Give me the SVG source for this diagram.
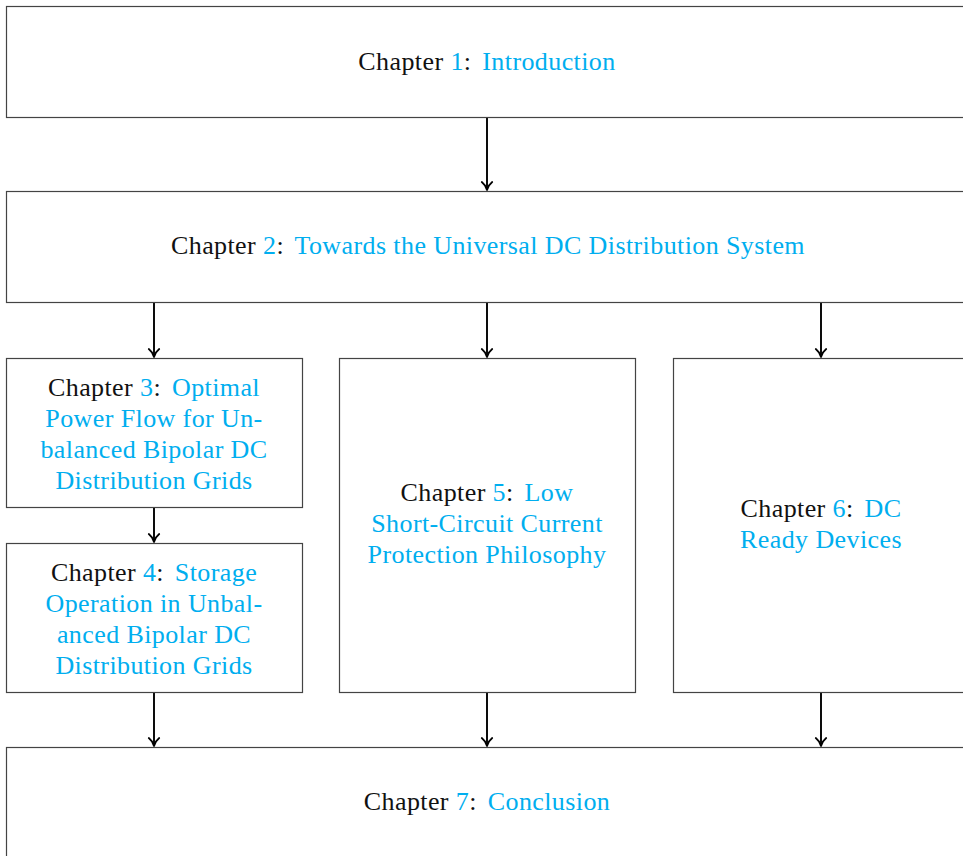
<svg xmlns="http://www.w3.org/2000/svg" width="963" height="856" viewBox="0 0 963 856">
  <style>
    .box { fill: #ffffff; stroke: #444444; stroke-width: 1.2; }
    .lbl { font-family: "Liberation Serif", "Times New Roman", serif; font-size: 26px; fill: #111111; text-anchor: middle; letter-spacing: 0.4px; }
    .ref { fill: #00aeef; }
    .edge { fill: none; stroke: #000000; stroke-width: 1.9; marker-end: url(#tip); }
  </style>
  <defs>
    <marker id="tip" markerUnits="userSpaceOnUse" markerWidth="16" markerHeight="16" viewBox="-8 -8 16 16" refX="0" refY="0" orient="auto" overflow="visible">
      <path d="M-8,-5.2 C-5.5,-2 -2.2,-0.6 0,0 C-2.2,0.6 -5.5,2 -8,5.2" fill="none" stroke="#000000" stroke-width="1.8" stroke-linecap="round" stroke-linejoin="round"/>
    </marker>
  </defs>
  <rect width="963" height="856" fill="#ffffff"/>

  <!-- connectors -->
  <g id="connectors">
    <path class="edge" d="M487,117.5 V190"/>
    <path class="edge" d="M154,302.5 V357"/>
    <path class="edge" d="M487,302.5 V357"/>
    <path class="edge" d="M821,302.5 V357"/>
    <path class="edge" d="M154,507.5 V542"/>
    <path class="edge" d="M154,692.5 V746"/>
    <path class="edge" d="M487,692.5 V746"/>
    <path class="edge" d="M821,692.5 V746"/>
  </g>

  <g id="ch1">
    <rect class="box" x="6.5" y="6.5" width="963" height="111"/>
    <text class="lbl" x="487" y="70">Chapter <tspan class="ref">1</tspan>: <tspan class="ref" dx="4">Introduction</tspan></text>
  </g>

  <g id="ch2">
    <rect class="box" x="6.5" y="191.5" width="963" height="111"/>
    <text class="lbl" x="488" y="254">Chapter <tspan class="ref">2</tspan>: <tspan class="ref" dx="4">Towards the Universal DC Distribution System</tspan></text>
  </g>

  <g id="ch3">
    <rect class="box" x="6.5" y="358.5" width="296" height="149"/>
    <text class="lbl" y="396"><tspan x="154">Chapter <tspan class="ref">3</tspan>: <tspan class="ref" dx="4">Optimal</tspan></tspan><tspan class="ref" x="154" y="427">Power Flow for Un-</tspan><tspan class="ref" x="154" y="458">balanced Bipolar DC</tspan><tspan class="ref" x="154" y="489">Distribution Grids</tspan></text>
  </g>

  <g id="ch4">
    <rect class="box" x="6.5" y="543.5" width="296" height="149"/>
    <text class="lbl" y="581"><tspan x="154">Chapter <tspan class="ref">4</tspan>: <tspan class="ref" dx="4">Storage</tspan></tspan><tspan class="ref" x="154" y="612">Operation in Unbal-</tspan><tspan class="ref" x="154" y="643">anced Bipolar DC</tspan><tspan class="ref" x="154" y="674">Distribution Grids</tspan></text>
  </g>

  <g id="ch5">
    <rect class="box" x="339.5" y="358.5" width="296" height="334"/>
    <text class="lbl" y="501"><tspan x="487">Chapter <tspan class="ref">5</tspan>: <tspan class="ref" dx="4">Low</tspan></tspan><tspan class="ref" x="487" y="532">Short-Circuit Current</tspan><tspan class="ref" x="487" y="563">Protection Philosophy</tspan></text>
  </g>

  <g id="ch6">
    <rect class="box" x="673.5" y="358.5" width="296" height="334"/>
    <text class="lbl" y="517"><tspan x="821">Chapter <tspan class="ref">6</tspan>: <tspan class="ref" dx="4">DC</tspan></tspan><tspan class="ref" x="821" y="548">Ready Devices</tspan></text>
  </g>

  <g id="ch7">
    <rect class="box" x="6.5" y="747.5" width="963" height="120"/>
    <text class="lbl" x="487" y="810">Chapter <tspan class="ref">7</tspan>: <tspan class="ref" dx="4">Conclusion</tspan></text>
  </g>
</svg>
